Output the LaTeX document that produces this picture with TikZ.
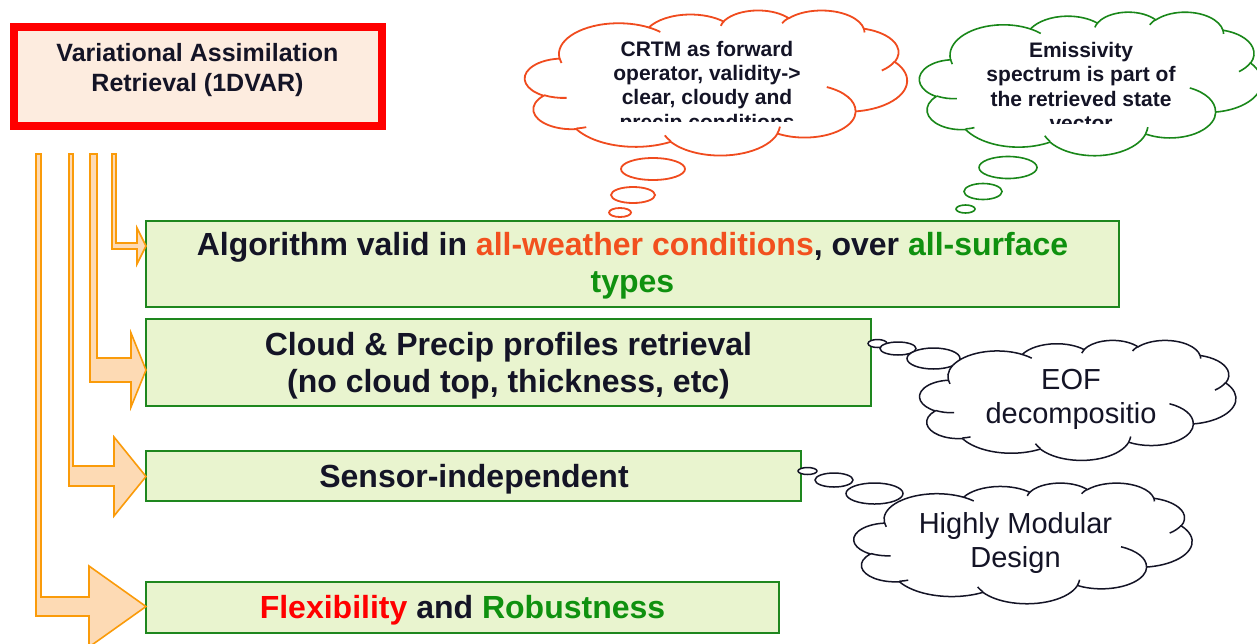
\documentclass[tikz,border=0pt]{standalone}
\usepackage{fontspec}
\setmainfont{Liberation Sans}
\definecolor{ink}{RGB}{20,20,38}
\definecolor{boxfill}{RGB}{233,244,207}
\definecolor{boxline}{RGB}{30,135,30}
\definecolor{redline}{RGB}{255,0,0}
\definecolor{redfill}{RGB}{253,236,223}
\definecolor{arrline}{RGB}{250,155,10}
\definecolor{arrfill}{RGB}{253,218,180}
\definecolor{orcloud}{RGB}{240,75,30}
\definecolor{grcloud}{RGB}{25,135,25}
\definecolor{txtorange}{RGB}{242,80,30}
\definecolor{txtgreen}{RGB}{15,145,15}
\definecolor{txtred}{RGB}{255,0,0}

% DrawingML-like arcTo (visual angles -> parametric angles)
\newcommand\ooang[4]{%
  \pgfmathsetmacro\oS{atan2((#1)*sin(#3),(#2)*cos(#3))}%
  \pgfmathsetmacro\oE{atan2((#1)*sin((#3)+(#4)),(#2)*cos((#3)+(#4)))}%
  \pgfmathsetmacro\oD{\oE-\oS}%
  \pgfmathsetmacro\oD{\oD+360*((#4)>0)*(\oD<0)-360*((#4)<0)*(\oD>0)}%
}
\newcommand\ooarc[4]{\pgfextra{\ooang{#1}{#2}{#3}{#4}} arc[x radius=#1, y radius=#2, start angle=\oS, delta angle=\oD]}
\newcommand\cloudshape{(390,1437)
 \ooarc{675.3}{919.0}{-190.4875}{123.7805}
 \ooarc{533.3}{726.7}{-144.1024}{89.9452}
 \ooarc{436.5}{594.5}{-145.8079}{99.7230}
 \ooarc{485.7}{659.5}{-130.9861}{117.2417}
 \ooarc{533.3}{727.3}{-78.7089}{109.0269}
 \ooarc{677.5}{922.0}{-46.2673}{130.2690}
 \ooarc{578.5}{786.7}{0.6250}{114.0333}
 \ooarc{675.2}{921.5}{22.4516}{115.1726}
 \ooarc{772.0}{1054.3}{66.2426}{75.7110}
 \ooarc{436.0}{593.6}{-274.9421}{146.7356}
 \ooarc{434.5}{594.5}{-246.8285}{152.5189} -- cycle}
\newcommand\cloudcurls{%
 (469.3,2617.7) \ooarc{434.5}{594.5}{86.742}{26.4295}
 (692.8,3489.9) \ooarc{436.0}{593.6}{73.6105}{11.4475}
 (1647.8,3909.0) \ooarc{675.2}{921.5}{137.6242}{14.0811}
 (2882.7,3475.1) \ooarc{675.2}{921.5}{6.4533}{15.9984}
 (3412.9,2295.4) \ooarc{578.5}{786.7}{-70.2924}{70.9174}
 (4179.8,1535.4) \ooarc{533.3}{727.3}{30.3180}{27.7515}
 (3832.4,542.6) \ooarc{485.7}{659.5}{-13.7443}{14.8589}
 (2907.8,395.2) \ooarc{485.7}{659.5}{-149.1815}{18.1954}
 (2214.1,472.0) \ooarc{436.5}{594.5}{-163.4943}{17.6864}
 (1400.0,519.2) \ooarc{675.3}{919.0}{-66.7070}{12.3194}
 (412.7,1578.9) \ooarc{675.3}{919.0}{157.6544}{11.8582}}

\tikzset{
  gbox/.style={draw=boxline, line width=2pt, fill=boxfill, inner sep=0pt, outer sep=0pt},
  rbox/.style={draw=redline, line width=8pt, fill=redfill, inner sep=0pt, outer sep=0pt},
  blockarrow/.style={draw=arrline, line width=1.6pt, fill=arrfill},
  cloudo/.style={draw=orcloud, line width=1.8pt},
  cloudg/.style={draw=grcloud, line width=1.6pt},
  cloudk/.style={draw=ink, line width=1.5pt},
  bigtext/.style={font=\fontsize{32}{37}\selectfont\bfseries, text=ink, align=center, inner sep=0pt},
  rtext/.style={font=\fontsize{25}{30.5}\selectfont\bfseries, text=ink, align=center, inner sep=0pt},
  ctext/.style={font=\fontsize{21}{24.2}\selectfont\bfseries, text=ink, align=center, inner sep=0pt},
  ktext/.style={font=\fontsize{29}{34}\selectfont, text=ink, align=center, inner sep=0pt},
}

\begin{document}
\begin{tikzpicture}[x=1pt,y=-1pt]
\useasboundingbox (0,0) rectangle (1257,643);
\fill[white] (0,0) rectangle (1257,643);

% title box
\node[rbox, minimum width=368, minimum height=99] (vr) at (198,76.5) {};
\node[rtext] (vrt) at (197.5,69.95) {Variational Assimilation\\Retrieval (1DVAR)};

% green boxes
\node[gbox, minimum width=973, minimum height=86] (b1) at (632.5,264) {};
\node[gbox, minimum width=725, minimum height=87] (b2) at (508.5,362.5) {};
\node[gbox, minimum width=655, minimum height=50] (b3) at (473.5,476) {};
\node[gbox, minimum width=633, minimum height=51] (b4) at (462.5,607.5) {};

\node[bigtext] (t1) at (632.5,266.2) {Algorithm valid in \textcolor{txtorange}{all-weather conditions}, over \textcolor{txtgreen}{all-surface}\\\textcolor{txtgreen}{types}};
\node[bigtext] (t2) at (508.5,365.25) {Cloud \& Precip profiles retrieval\\(no cloud top, thickness, etc)};
\node[bigtext] (t3) at (474,478.9) {Sensor-independent};
\node[bigtext] (t4) at (462.5,609.8) {\textcolor{txtred}{Flexibility} and \textcolor{txtgreen}{Robustness}};

% bent block arrows from the title box to the green boxes
\coordinate (tip1) at (b1.west |- 0,246);
\coordinate (tip2) at (b2.west |- 0,370);
\coordinate (tip3) at (b3.west |- 0,476.5);
\coordinate (tip4) at (b4.west |- 0,606.5);
\draw[blockarrow] (112,154) -- (116,154) -- (116,243) -- (137,243) -- (137,228) -- (tip1) -- (137,264) -- (137,249) -- (112,249) -- cycle;
\draw[blockarrow] (90,154) -- (97,154) -- (97,358) -- (131,358) -- (131,333) -- (tip2) -- (131,407) -- (131,382) -- (90,382) -- cycle;
\draw[blockarrow] (69,154) -- (73,154) -- (73,466) -- (114,466) -- (114,437) -- (tip3) -- (114,516) -- (114,486) -- (69,486) -- cycle;
\draw[blockarrow] (36,154) -- (41,154) -- (41,597) -- (89,597) -- (89,566) -- (tip4) -- (89,647) -- (89,616) -- (36,616) -- cycle;

% thought bubbles
\draw[cloudo, fill=white] (653,169) ellipse [x radius=32, y radius=11];
\draw[cloudo, fill=white] (633,195) ellipse [x radius=22, y radius=8];
\draw[cloudo, fill=white] (620,212.5) ellipse [x radius=11, y radius=4.5];

\draw[cloudg, fill=white] (1008,167.5) ellipse [x radius=29, y radius=11];
\draw[cloudg, fill=white] (983,191.5) ellipse [x radius=19, y radius=8];
\draw[cloudg, fill=white] (965.5,209) ellipse [x radius=9.5, y radius=4];

\draw[cloudk, fill=white] (877.5,343.5) ellipse [x radius=9.5, y radius=4];
\draw[cloudk, fill=white] (898,348.5) ellipse [x radius=18, y radius=6.5];
\draw[cloudk, fill=white] (933.5,358.5) ellipse [x radius=26.5, y radius=10.5];

\draw[cloudk, fill=white] (807.5,471) ellipse [x radius=9.5, y radius=3.5];
\draw[cloudk, fill=white] (834,480) ellipse [x radius=19, y radius=7];
\draw[cloudk, fill=white] (874.5,493.5) ellipse [x radius=28.5, y radius=10.5];

% clouds
\begin{scope}[shift={(525,10)}, x=0.088426pt, y=-0.033565pt]
  \draw[cloudo, fill=white] \cloudshape;
  \draw[cloudo] \cloudcurls;
\end{scope}
\begin{scope}[shift={(919.6,11.7)}, x=0.079167pt, y=-0.033218pt]
  \draw[cloudg, fill=white] \cloudshape;
  \draw[cloudg] \cloudcurls;
\end{scope}
\begin{scope}[shift={(919.8,340)}, x=0.073148pt, y=-0.027778pt]
  \draw[cloudk, fill=white] \cloudshape;
  \draw[cloudk] \cloudcurls;
\end{scope}
\begin{scope}[shift={(854,482.7)}, x=0.078241pt, y=-0.027917pt]
  \draw[cloudk, fill=white] \cloudshape;
  \draw[cloudk] \cloudcurls;
\end{scope}

% cloud texts
\begin{scope}
  \clip (520,0) rectangle (915,121);
  \node[ctext] (crtm) at (707,87.35) {CRTM as forward\\operator, validity->\\clear, cloudy and\\precip conditions};
\end{scope}
\begin{scope}
  \clip (915,0) rectangle (1257,123);
  \node[ctext] (emis) at (1081,86.45) {Emissivity\\spectrum is part of\\the retrieved state\\vector};
\end{scope}
\node[ktext] (eof) at (1071,399.5) {EOF\\decompositio};
\node[ktext] (hmd) at (1015.5,542.65) {Highly Modular\\Design};
\end{tikzpicture}
\end{document}
